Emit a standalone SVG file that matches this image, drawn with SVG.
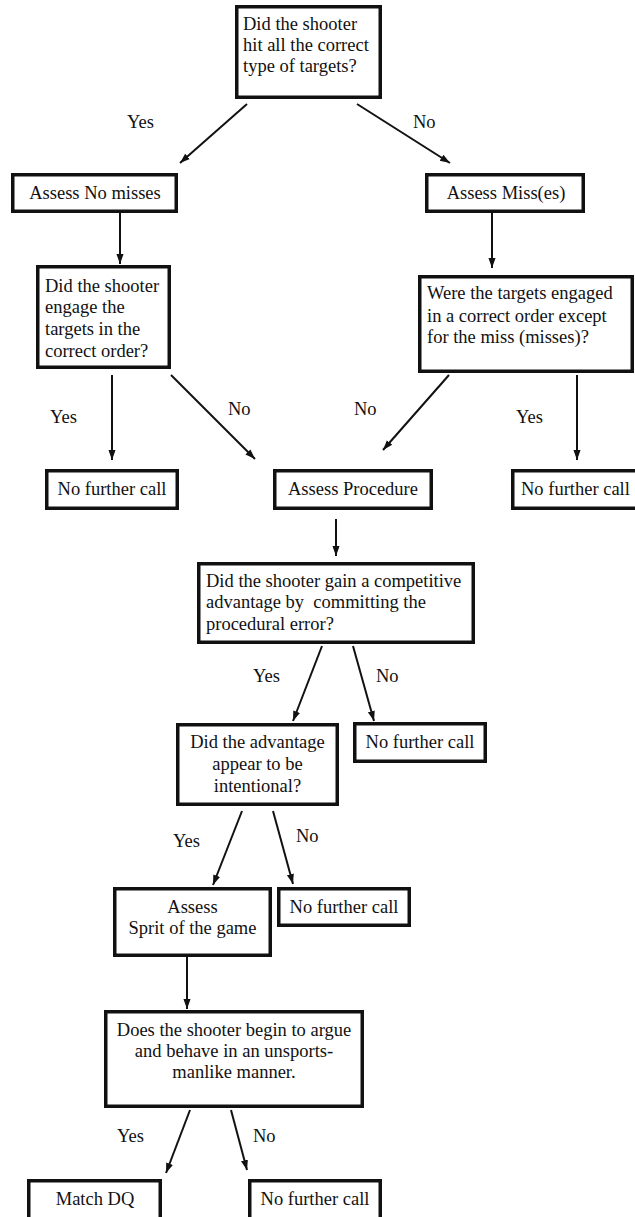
<svg xmlns="http://www.w3.org/2000/svg" width="635" height="1217" viewBox="0 0 635 1217">
<style>
.box{fill:#fff;stroke:#111;stroke-width:3.5}
.t{font-family:"Liberation Serif","Times New Roman",serif;font-size:18.5px;fill:#111}
.c{text-anchor:middle}
.lbl{font-family:"Liberation Serif","Times New Roman",serif;font-size:18.5px;fill:#111}
.ln{stroke:#111;stroke-width:2;fill:none;marker-end:url(#ah)}
</style>
<defs>
<marker id="ah" markerUnits="userSpaceOnUse" markerWidth="10" markerHeight="14" viewBox="0 0 14 10" refX="14" refY="5" orient="auto">
<path d="M0,0 L14,5 L0,10 z" fill="#111"/>
</marker>
</defs>
<rect width="635" height="1217" fill="#fff"/>
<g id="connectors">
<line class="ln" x1="247" y1="104" x2="180" y2="163"/>
<line class="ln" x1="357" y1="104" x2="450" y2="163"/>
<line class="ln" x1="120" y1="213" x2="120" y2="264"/>
<line class="ln" x1="492" y1="213" x2="492" y2="268"/>
<line class="ln" x1="112" y1="375" x2="112" y2="460"/>
<line class="ln" x1="171" y1="375" x2="255" y2="459"/>
<line class="ln" x1="449" y1="375" x2="383" y2="450"/>
<line class="ln" x1="577" y1="375" x2="577" y2="460"/>
<line class="ln" x1="336" y1="519" x2="336" y2="556"/>
<line class="ln" x1="322" y1="646" x2="293" y2="721"/>
<line class="ln" x1="353" y1="646" x2="374" y2="721"/>
<line class="ln" x1="242" y1="811" x2="213" y2="885"/>
<line class="ln" x1="273" y1="811" x2="293" y2="884"/>
<line class="ln" x1="187" y1="957" x2="187" y2="1009"/>
<line class="ln" x1="190" y1="1110" x2="166" y2="1173"/>
<line class="ln" x1="231" y1="1110" x2="247" y2="1170"/>
<text class="lbl" x="127" y="128">Yes</text>
<text class="lbl" x="413" y="128">No</text>
<text class="lbl" x="50" y="423">Yes</text>
<text class="lbl" x="228" y="415">No</text>
<text class="lbl" x="354" y="415">No</text>
<text class="lbl" x="516" y="423">Yes</text>
<text class="lbl" x="253" y="682">Yes</text>
<text class="lbl" x="376" y="682">No</text>
<text class="lbl" x="173" y="847">Yes</text>
<text class="lbl" x="296" y="842">No</text>
<text class="lbl" x="117" y="1142">Yes</text>
<text class="lbl" x="253" y="1142">No</text>
</g>
<g id="n1">
<rect class="box" x="236.75" y="6.75" width="143.5" height="90.5"/>
<text class="t" x="243" y="30">Did the shooter</text>
<text class="t" x="243" y="51">hit all the correct</text>
<text class="t" x="243" y="72">type of targets?</text>
</g>
<g id="n2">
<rect class="box" x="12.75" y="174.75" width="163.5" height="36.5"/>
<text class="t c" x="95" y="199">Assess No misses</text>
</g>
<g id="n3">
<rect class="box" x="426.75" y="174.75" width="156.5" height="36.5"/>
<text class="t c" x="506" y="199">Assess Miss(es)</text>
</g>
<g id="n4">
<rect class="box" x="37.75" y="266.75" width="131.5" height="100.5"/>
<text class="t" x="45" y="292">Did the shooter</text>
<text class="t" x="45" y="313">engage the</text>
<text class="t" x="45" y="335">targets in the</text>
<text class="t" x="45" y="357">correct order?</text>
</g>
<g id="n5">
<rect class="box" x="419.75" y="276.75" width="212.5" height="94.5"/>
<text class="t" x="427" y="299">Were the targets engaged</text>
<text class="t" x="427" y="322">in a correct order except</text>
<text class="t" x="427" y="343">for the miss (misses)?</text>
</g>
<g id="n6">
<rect class="box" x="46.75" y="470.75" width="130.5" height="37.5"/>
<text class="t c" x="112" y="495">No further call</text>
</g>
<g id="n7">
<rect class="box" x="274.75" y="470.75" width="156.5" height="37.5"/>
<text class="t c" x="353" y="495">Assess Procedure</text>
</g>
<g id="n8">
<rect class="box" x="512.75" y="470.75" width="140" height="37.5"/>
<text class="t" x="521" y="495">No further call</text>
</g>
<g id="n9">
<rect class="box" x="198.75" y="563.75" width="274.5" height="78.5"/>
<text class="t" x="206" y="587">Did the shooter gain a competitive</text>
<text class="t" x="206" y="608" xml:space="preserve">advantage by  committing the</text>
<text class="t" x="206" y="630">procedural error?</text>
</g>
<g id="n10">
<rect class="box" x="177.75" y="724.75" width="159.5" height="79.5"/>
<text class="t c" x="257.5" y="748">Did the advantage</text>
<text class="t c" x="257.5" y="770">appear to be</text>
<text class="t c" x="257.5" y="792">intentional?</text>
</g>
<g id="n11">
<rect class="box" x="354.75" y="723.75" width="130.5" height="37.5"/>
<text class="t c" x="420" y="748">No further call</text>
</g>
<g id="n12">
<rect class="box" x="114.75" y="888.75" width="155.5" height="66.5"/>
<text class="t c" x="192.5" y="913">Assess</text>
<text class="t c" x="192.5" y="934">Sprit of the game</text>
</g>
<g id="n13">
<rect class="box" x="278.75" y="888.75" width="130.5" height="36.5"/>
<text class="t c" x="344" y="913">No further call</text>
</g>
<g id="n14">
<rect class="box" x="105.75" y="1011.75" width="256.5" height="94.5"/>
<text class="t c" x="234" y="1036">Does the shooter begin to argue</text>
<text class="t c" x="234" y="1057">and behave in an unsports-</text>
<text class="t c" x="234" y="1078">manlike manner.</text>
</g>
<g id="n15">
<rect class="box" x="28.75" y="1180.75" width="131.5" height="60"/>
<text class="t c" x="95" y="1205">Match DQ</text>
</g>
<g id="n16">
<rect class="box" x="249.75" y="1180.75" width="130.5" height="60"/>
<text class="t c" x="315" y="1205">No further call</text>
</g>
</svg>
